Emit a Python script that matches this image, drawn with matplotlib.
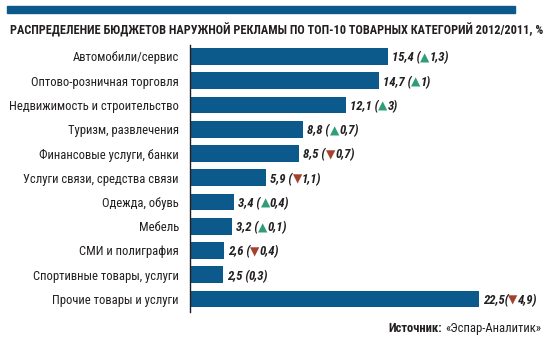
import matplotlib
matplotlib.use("Agg")
import matplotlib.pyplot as plt
from matplotlib import font_manager as fm
from matplotlib.patches import Rectangle
import matplotlib.transforms as mtransforms

categories = ["Автомобили/сервис", "Оптово-розничная торговля",
              "Недвижимость и строительство", "Туризм, развлечения",
              "Финансовые услуги, банки", "Услуги связи, средства связи",
              "Одежда, обувь", "Мебель", "СМИ и полиграфия",
              "Спортивные товары, услуги", "Прочие товары и услуги"]
values = [15.4, 14.7, 12.1, 8.8, 8.5, 5.9, 3.4, 3.2, 2.6, 2.5, 22.5]
change_txt = ["1,3", "1", "3", "0,7", "0,7", "1,1", "0,4", "0,1", "0,4", "0,3", "4,9"]
change_dir = ["up", "up", "up", "up", "down", "down", "up", "up", "down", "none", "down"]

names = {f.name for f in fm.fontManager.ttflist}
narrow = "DejaVu Sans"
for cand in ["Roboto Condensed", "PT Sans Narrow", "Fira Sans Condensed", "IBM Plex Sans Condensed"]:
    if cand in names:
        narrow = cand
        break
fam = [narrow, "DejaVu Sans"]

blue = "#0b5a8b"
green = "#2f9c7c"
red = "#a4402e"
dark = "#231f20"

fig = plt.figure(figsize=(5.56, 3.41), dpi=100)
W, H = 556, 341
fig.canvas.draw()
r = fig.canvas.get_renderer()


def fit(txt, target, **kw):
    t = fig.text(0, 0, txt, fontsize=10, **kw)
    w = t.get_window_extent(r).width
    t.remove()
    return 10 * target / w


# top band
fig.patches.append(Rectangle((7 / W, 1 - 13 / H), 508 / W, 7 / H,
                             transform=fig.transFigure, color=blue))
title = "РАСПРЕДЕЛЕНИЕ БЮДЖЕТОВ НАРУЖНОЙ РЕКЛАМЫ ПО ТОП-10 ТОВАРНЫХ КАТЕГОРИЙ 2012/2011, %"
ts = fit(title, 530, family=fam, weight=900)
fig.text(10 / W, 1 - 28.5 / H, title, family=fam, weight=900, fontsize=ts,
         color=dark, va="center_baseline")

ax = fig.add_axes([190 / W, 1 - 312 / H, 350 / W, 267 / H])
y = list(range(len(categories)))
ax.barh(y, values, height=0.7, color=blue, left=0.05)
ax.set_xlim(0, 350 / 12.8)
ax.set_ylim(10 + 13 / 24.25, -11.5 / 24.25)
for s in ["top", "right", "bottom"]:
    ax.spines[s].set_visible(False)
ax.spines["left"].set_color(dark)
ax.spines["left"].set_linewidth(1.0)
ax.set_xticks([])
ax.set_yticks(y)
ls = fit(categories[2], 170, family=fam)
ax.set_yticklabels(categories, family=fam, fontsize=ls, color=dark)
ax.tick_params(axis="y", length=0, pad=8)

lab = dict(family=fam, weight="bold", style="italic", color=dark, va="center_baseline")
vs = fit("15,4 (1,3)", 48, **lab)
for i, v in enumerate(values):
    sep = "(" if i == len(values) - 1 else " ("
    parts = [(f"{v:.1f}".replace(".", ",") + sep, dark)]
    if change_dir[i] == "up":
        parts.append(("▲", green))
    elif change_dir[i] == "down":
        parts.append(("▼", red))
    parts.append((change_txt[i] + ")", dark))
    dx = 4
    for txt, c in parts:
        tr = mtransforms.offset_copy(ax.transData, fig=fig, x=dx, y=0, units="dots")
        kw = dict(lab)
        kw["color"] = c
        kw["fontsize"] = vs
        if txt in "▲▼":
            kw["family"] = "DejaVu Sans"
            kw["fontsize"] = vs * 0.95
            kw["style"] = "normal"
        t = ax.text(v + 0.05, i, txt, transform=tr, **kw)
        dx += t.get_window_extent(r).width

ss = fit("Источник: «Эспар-Аналитик»", 153, family=fam)
t = fig.text(541 / W, 1 - 327 / H, "«Эспар-Аналитик»", family=fam, fontsize=ss,
             color=dark, ha="right", va="center_baseline")
w = t.get_window_extent(r).width
fig.text((541 - w - 3) / W, 1 - 327 / H, "Источник:", family=fam, weight="bold",
         fontsize=ss, color=dark, ha="right", va="center_baseline")

fig.savefig("out.png", dpi=100, facecolor="white")
